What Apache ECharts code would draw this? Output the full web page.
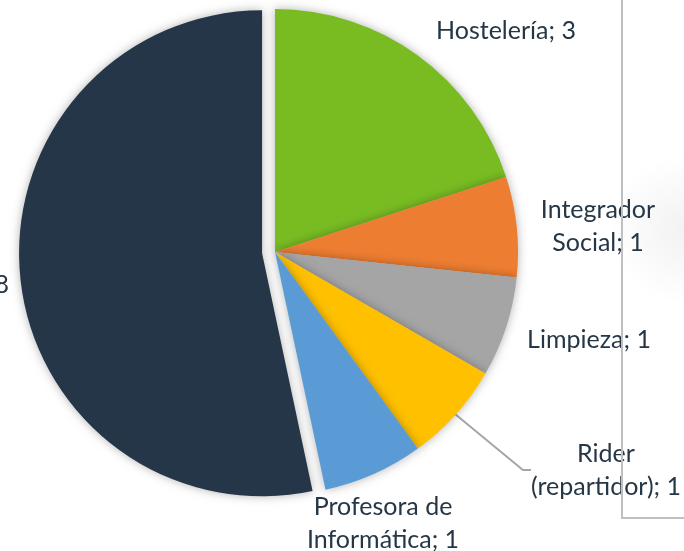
<!DOCTYPE html>
<html>
<head>
<meta charset="utf-8">
<script src="https://cdn.jsdelivr.net/npm/echarts@6/dist/echarts.min.js"></script>
<style>
  html, body { margin: 0; padding: 0; background: #fff; }
  #chart { width: 684px; height: 551px; }
</style>
</head>
<body>
<div id="chart"></div>
<script>
  // categorías y valores
  var names = ['Hostelería', 'Integrador\nSocial', 'Limpieza', 'Rider\n(repartidor)', 'Profesora de\nInformática', 'Sin empleo']
  var values = [3, 1, 1, 1, 1, 8]
  var colors = ['#78BC22', '#ED7D31', '#A5A5A5', '#FFC000', '#5B9BD5', '#243647']

  // posiciones de las etiquetas (centro del texto)
  var labelPos = [[506, 31], [598, 226], [589, 340], [606, 470], [383, 523], [9, 285]]

  var seriesData = []
  for (var i = 0; i < values.length; i++) {
    seriesData.push({
      value: values[i],
      name: names[i],
      selected: i == 5,
      itemStyle: { color: colors[i] },
      label: { show: i != 5 },
      labelLine: { show: i == 3 }
    })
  }

  var labelFont = {
    fontFamily: 'Lato',
    fontSize: 25,
    lineHeight: 33,
    color: '#253746'
  }

  var myChart = echarts.init(document.getElementById('chart'))
  myChart.setOption({
    animation: false,
    series: [
      {
        type: 'pie',
        center: [275, 252],
        radius: ['0', 243],
        startAngle: 90,
        selectedMode: 'single',
        selectedOffset: 13,
        emphasis: { disabled: true },
        itemStyle: {
          shadowBlur: 10,
          shadowColor: 'rgba(0,0,0,0.3)'
        },
        label: Object.assign({
          position: 'outside',
          formatter: '{b}; {c}',
          align: 'center'
        }, labelFont),
        labelLine: {
          lineStyle: { color: '#A6A6A6', width: 2 },
          length: 20,
          length2: 8
        },
        labelLayout: function (params) {
          var p = labelPos[params.dataIndex]
          return {
            x: p[0],
            y: p[1],
            align: 'center',
            verticalAlign: 'middle'
          }
        },
        data: seriesData
      }
    ],
    graphic: [
      {
        type: 'rect',
        z: 1,
        shape: { x: 560, y: 80, width: 124, height: 300 },
        style: {
          fill: {
            type: 'radial', x: 1, y: 0.5, r: 0.6,
            colorStops: [
              { offset: 0, color: 'rgba(0,0,0,0.05)' },
              { offset: 1, color: 'rgba(0,0,0,0)' }
            ]
          }
        }
      },
      {
        // etiqueta del sector grande, cortada por el borde izquierdo
        type: 'text',
        z: 100,
        x: labelPos[5][0],
        y: labelPos[5][1],
        style: Object.assign({
          text: names[5] + '; ' + values[5],
          align: 'right',
          verticalAlign: 'middle'
        }, labelFont, { fill: labelFont.color })
      },
      {
        type: 'polyline',
        z: 100,
        shape: { points: [[622, 0], [622, 518], [684, 518]] },
        style: { stroke: '#BFBFBF', lineWidth: 2, fill: null }
      }
    ]
  })
</script>
</body>
</html>
